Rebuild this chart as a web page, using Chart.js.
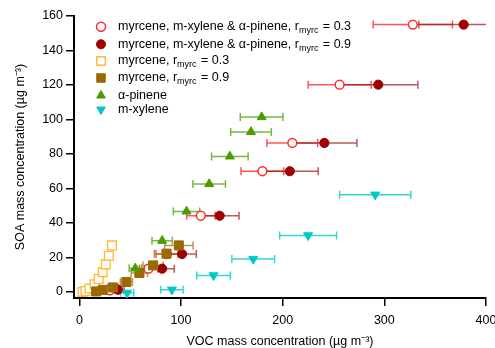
<!DOCTYPE html>
<html><head><meta charset="utf-8">
<script src="https://cdn.jsdelivr.net/npm/chart.js@4/dist/chart.umd.min.js"></script>
<style>html,body{margin:0;padding:0;background:#fff}#wrap{width:495px;height:348px}</style>
</head><body><div id="wrap"><canvas id="c" width="495" height="348"></canvas></div>
<script>
// ---- data ----
const seriesNames = [
  'myrcene, m-xylene & α-pinene, r_{myrc} = 0.3',
  'myrcene, m-xylene & α-pinene, r_{myrc} = 0.9',
  'myrcene, r_{myrc} = 0.3',
  'myrcene, r_{myrc} = 0.9',
  'α-pinene',
  'm-xylene'
];
const mix03X   = [30, 68, 86.3, 119.5, 180, 209.5, 256, 328];
const mix03Y   = [1, 13.5, 22, 44.2, 70, 86.4, 120.2, 155];
const mix03Err = [5, 9, 11, 14, 21, 25, 31, 39];

const mix09X   = [38, 81.4, 101, 138, 207, 241, 294, 378];
const mix09Y   = [1.3, 13.5, 22, 44.2, 70, 86.4, 120.2, 155];
const mix09Err = [6, 12, 14, 19, 28, 32, 39, 44];

const myr03X   = [3, 6, 10, 15, 19, 23, 26, 29, 32];
const myr03Y   = [0, 0.5, 2, 4.5, 7.5, 11.5, 16, 21, 27];
const myr03Err = [2, 2, 2.5, 2.5, 3, 3, 3, 3.5, 3.5];

const myr09X   = [16.5, 23, 33, 46.3, 59, 72.5, 85.7, 97.8];
const myr09Y   = [0.3, 1.2, 2.6, 5.8, 11, 15.4, 22.2, 27];
const myr09Err = [3, 4, 5, 6, 8, 10, 12, 14];

const apinX    = [55, 81.4, 105.4, 127.7, 148, 168.8, 179.3];
const apinY    = [13.7, 29.7, 46.7, 62.6, 78.6, 92.8, 101.4];
const apinErr  = [6, 10, 13, 16, 18, 20, 21];

const mxylX    = [47, 91, 132, 171, 225, 291];
const mxylY    = [-0.5, 1.3, 9.6, 19.1, 32.8, 56.4];
const mxylErr  = [6.5, 11, 16.5, 21, 28, 35];

const xTickValues = [0, 100, 200, 300, 400];
const yTickValues = [0, 20, 40, 60, 80, 100, 120, 140, 160];

// ---- build ----
const pts = (xs, ys) => xs.map((v, i) => ({x: v, y: ys[i]}));
const FONT = "'Liberation Sans', Arial, Helvetica, sans-serif";

const datasets = [
  {label: seriesNames[0], data: pts(mix03X, mix03Y), xErr: mix03Err, pointStyle: 'circle', radius: 4.4,
   borderColor: '#ff2a2a', backgroundColor: '#ffffff', borderWidth: 1.5, errColor: 'rgba(255,55,55,0.85)', order: 5},
  {label: seriesNames[1], data: pts(mix09X, mix09Y), xErr: mix09Err, pointStyle: 'circle', radius: 4.6,
   borderColor: '#9c0000', backgroundColor: '#9c0000', borderWidth: 1, errColor: 'rgba(160,25,25,0.72)', order: 4},
  {label: seriesNames[2], data: pts(myr03X, myr03Y), xErr: myr03Err, pointStyle: 'rect', radius: 6.2,
   borderColor: '#ffb833', backgroundColor: '#ffffff', borderWidth: 1.3, errColor: 'rgba(255,180,50,0.85)', order: 3},
  {label: seriesNames[3], data: pts(myr09X, myr09Y), xErr: myr09Err, pointStyle: 'rect', radius: 6.4,
   borderColor: '#9a6a00', backgroundColor: '#9a6a00', borderWidth: 1, errColor: 'rgba(165,115,25,0.75)', order: 2},
  {label: seriesNames[4], data: pts(apinX, apinY), xErr: apinErr, pointStyle: 'triangle', radius: 5.2,
   borderColor: '#4c9a00', backgroundColor: '#4c9a00', borderWidth: 1, errColor: 'rgba(95,170,35,0.85)', order: 1},
  {label: seriesNames[5], data: pts(mxylX, mxylY), xErr: mxylErr, pointStyle: 'triangle', rotation: 180, radius: 5.2,
   borderColor: '#00c8c8', backgroundColor: '#00c8c8', borderWidth: 1, errColor: 'rgba(0,205,205,0.8)', order: 0}
];
datasets.forEach(d => { d.showLine = false; d.pointRadius = d.radius; d.pointHoverRadius = d.radius;
  d.pointRotation = d.rotation || 0; d.pointBorderWidth = d.borderWidth; });

const errPlugin = {
  id: 'errbars',
  beforeDatasetsDraw(chart) {
    const {ctx, chartArea: a, scales: {x, y}} = chart;
    ctx.save();
    ctx.beginPath(); ctx.rect(a.left, a.top, a.right - a.left, a.bottom - a.top); ctx.clip();
    const order = chart.data.datasets.map((d, i) => i).sort((p, q) => chart.data.datasets[q].order - chart.data.datasets[p].order);
    order.forEach(i => {
      const ds = chart.data.datasets[i];
      ctx.strokeStyle = ds.errColor; ctx.lineWidth = 1.5;
      ds.data.forEach((p, k) => {
        const e = ds.xErr[k];
        const x0 = x.getPixelForValue(p.x - e), x1 = x.getPixelForValue(p.x + e), py = y.getPixelForValue(p.y);
        ctx.beginPath();
        ctx.moveTo(x0, py); ctx.lineTo(x1, py);
        ctx.moveTo(x0, py - 4); ctx.lineTo(x0, py + 4);
        ctx.moveTo(x1, py - 4); ctx.lineTo(x1, py + 4);
        ctx.stroke();
      });
    });
    ctx.restore();
  }
};

const legendRowsY = [26.7, 44.3, 61, 78, 95.5, 109.5];
const legendPlugin = {
  id: 'customLegend',
  afterDraw(chart) {
    const ctx = chart.ctx;
    ctx.save();
    chart.data.datasets.forEach((ds, i) => {
      const yy = legendRowsY[i];
      ctx.fillStyle = ds.backgroundColor; ctx.strokeStyle = ds.borderColor; ctx.lineWidth = ds.borderWidth;
      Chart.helpers.drawPoint(ctx, {pointStyle: ds.pointStyle, rotation: ds.rotation || 0,
        radius: ds.pointStyle === 'rect' ? 6 : (ds.pointStyle === 'triangle' ? 5 : 4.5), borderWidth: ds.borderWidth}, 101, yy);
      let tx = 118;
      ctx.fillStyle = '#000'; ctx.textBaseline = 'middle'; ctx.textAlign = 'left';
      const parts = ds.label.split(/_\{([^}]*)\}/);
      parts.forEach((s, j) => {
        if (j % 2 === 1) {
          ctx.font = '9px ' + FONT;
          ctx.fillText(s, tx, yy + 4);
          tx += ctx.measureText(s).width + 1;
        } else {
          ctx.font = '12.5px ' + FONT;
          ctx.fillText(s, tx, yy);
          tx += ctx.measureText(s).width;
        }
      });
    });
    ctx.restore();
  }
};

new Chart(document.getElementById('c'), {
  type: 'scatter',
  data: {datasets},
  plugins: [errPlugin, legendPlugin],
  options: {
    responsive: false, animation: false, devicePixelRatio: 1,
    layout: {padding: {left: 0, right: 9, top: 16, bottom: 0}},
    plugins: {legend: {display: false}, tooltip: {enabled: false}},
    scales: {
      x: {
        type: 'linear', min: -5.3, max: 400,
        afterBuildTicks: s => { s.ticks = xTickValues.map(v => ({value: v})); },
        afterFit: s => { s.height = 50; s.paddingRight = 0; },
        grid: {display: true, drawOnChartArea: false, drawTicks: true, tickLength: 8, color: '#000', lineWidth: 1.5},
        border: {display: true, color: '#000', width: 2},
        ticks: {color: '#000', font: {family: FONT, size: 12.5}, padding: 7, maxRotation: 0},
        title: {display: true, text: 'VOC mass concentration (µg m⁻³)', color: '#000',
                font: {family: FONT, size: 12.5}, padding: {top: 0, bottom: -1}}
      },
      y: {
        type: 'linear', min: -3.5, max: 160,
        afterBuildTicks: s => { s.ticks = yTickValues.map(v => ({value: v})); },
        afterFit: s => { s.width = 74; },
        grid: {display: true, drawOnChartArea: false, drawTicks: true, tickLength: 8, color: '#000', lineWidth: 1.5},
        border: {display: true, color: '#000', width: 2},
        ticks: {color: '#000', font: {family: FONT, size: 12.5}, padding: 3},
        title: {display: true, text: 'SOA mass concentration (µg m⁻³)', color: '#000',
                font: {family: FONT, size: 12.5}, padding: {top: 13, bottom: 0}}
      }
    }
  }
});
</script></body></html>
